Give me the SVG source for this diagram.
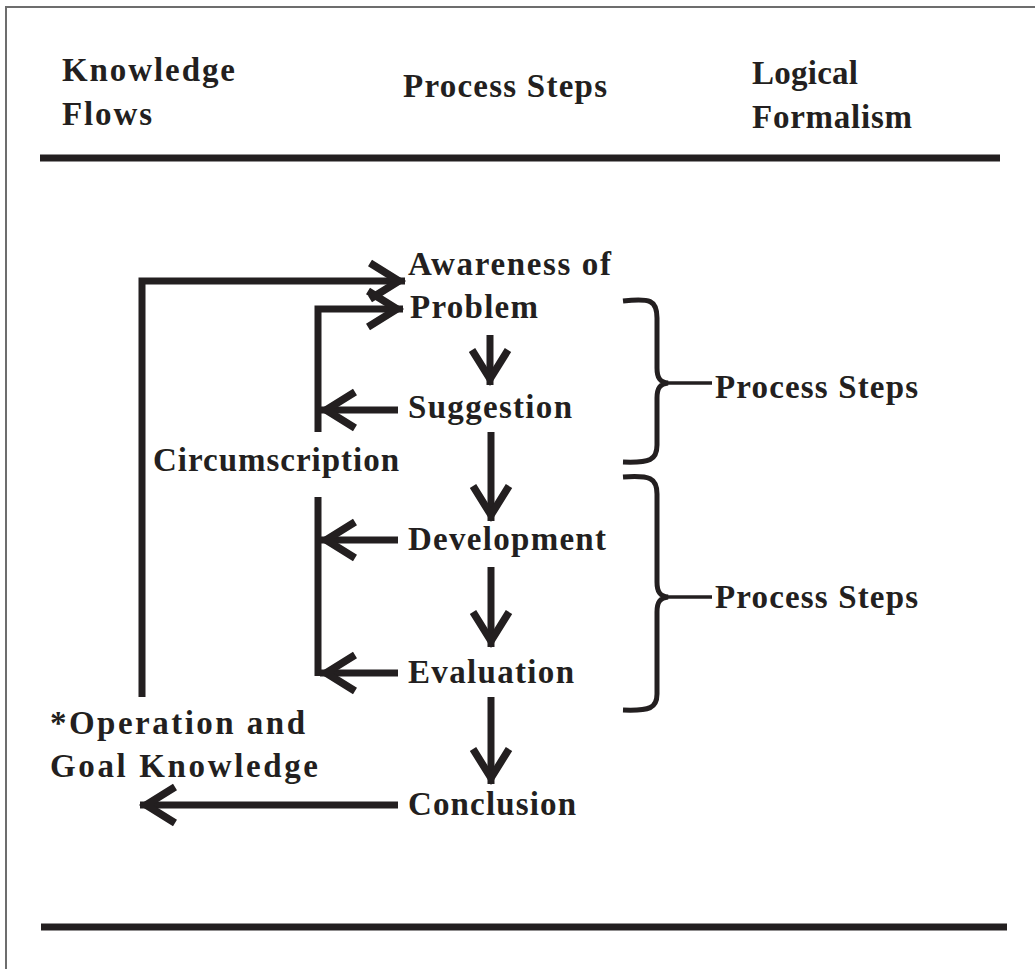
<svg xmlns="http://www.w3.org/2000/svg" width="1035" height="969" viewBox="0 0 1035 969">
<defs>
<style>
.t{font-family:"Liberation Serif","Times New Roman",serif;font-weight:bold;font-size:33px;fill:#231f20}
.ln{fill:none;stroke:#231f20;stroke-width:7}
.br{fill:none;stroke:#231f20;stroke-width:5}
.thin{fill:none;stroke:#231f20;stroke-width:3.5}
.rule{stroke:#231f20;stroke-width:7}
</style>
<marker id="ah" markerUnits="userSpaceOnUse" markerWidth="60" markerHeight="60" viewBox="-45 -30 60 60" refX="0" refY="0" orient="auto" overflow="visible">
<path d="M-35,-18 L-6,0 L-35,18" fill="none" stroke="#231f20" stroke-width="7.5" stroke-linejoin="miter"/>
</marker>
</defs>
<rect width="1035" height="969" fill="#ffffff"/>
<g id="frame">
<path d="M6,969 V7 H1035" fill="none" stroke="#6d6d6d" stroke-width="2"/>
</g>
<g id="header">
<text class="t" x="62" y="81" textLength="173" lengthAdjust="spacing">Knowledge</text>
<text class="t" x="62" y="125" textLength="90" lengthAdjust="spacing">Flows</text>
<text class="t" x="403" y="97" textLength="204" lengthAdjust="spacing">Process Steps</text>
<text class="t" x="752" y="84" textLength="106" lengthAdjust="spacing">Logical</text>
<text class="t" x="752" y="128" textLength="160" lengthAdjust="spacing">Formalism</text>
<line class="rule" x1="40" y1="158" x2="1000" y2="158"/>
<line class="rule" x1="41" y1="927" x2="1007" y2="927"/>
</g>
<g id="connectors">
<path class="ln" d="M142,697 V281 H405" marker-end="url(#ah)"/>
<path class="ln" d="M318,432 V309 H403" marker-end="url(#ah)"/>
<path class="ln" d="M398,410 H320" marker-end="url(#ah)"/>
<path class="ln" d="M490,335 V385" marker-end="url(#ah)"/>
<path class="ln" d="M491,432 V521" marker-end="url(#ah)"/>
<path class="ln" d="M318,497 V676"/>
<path class="ln" d="M398,540 H320" marker-end="url(#ah)"/>
<path class="ln" d="M398,673 H320" marker-end="url(#ah)"/>
<path class="ln" d="M491,567 V647" marker-end="url(#ah)"/>
<path class="ln" d="M491,697 V784" marker-end="url(#ah)"/>
<path class="ln" d="M398,805 H140" marker-end="url(#ah)"/>
</g>
<g id="braces">
<path class="br" d="M623,301 C650,298 657,300 657,318 L657,368 C657,378 660,382 668,383 C660,384 657,388 657,398 L657,445 C657,460 650,463 623,462"/>
<path class="thin" d="M664,383 H712"/>
<path class="br" d="M623,477 C650,475 657,478 657,494 L657,582 C657,592 660,596 668,597 C660,598 657,602 657,612 L657,694 C657,708 650,711 623,710"/>
<path class="thin" d="M664,597 H712"/>
</g>
<g id="n-awareness"><text class="t" x="408" y="275" textLength="203" lengthAdjust="spacing">Awareness of</text>
<text class="t" x="410" y="318" textLength="128" lengthAdjust="spacing">Problem</text></g>
<g id="n-suggestion"><text class="t" x="408" y="418" textLength="164" lengthAdjust="spacing">Suggestion</text></g>
<g id="n-circumscription"><text class="t" x="153" y="471" textLength="246" lengthAdjust="spacing">Circumscription</text></g>
<g id="n-development"><text class="t" x="408" y="550" textLength="198" lengthAdjust="spacing">Development</text></g>
<g id="n-evaluation"><text class="t" x="408" y="683" textLength="166" lengthAdjust="spacing">Evaluation</text></g>
<g id="n-conclusion"><text class="t" x="408" y="815" textLength="168" lengthAdjust="spacing">Conclusion</text></g>
<g id="n-operation"><text class="t" x="50" y="734" textLength="255" lengthAdjust="spacing">*Operation and</text>
<text class="t" x="50" y="777" textLength="268" lengthAdjust="spacing">Goal Knowledge</text></g>
<g id="n-ps1"><text class="t" x="715" y="398" textLength="203" lengthAdjust="spacing">Process Steps</text></g>
<g id="n-ps2"><text class="t" x="715" y="608" textLength="203" lengthAdjust="spacing">Process Steps</text></g>
</svg>
